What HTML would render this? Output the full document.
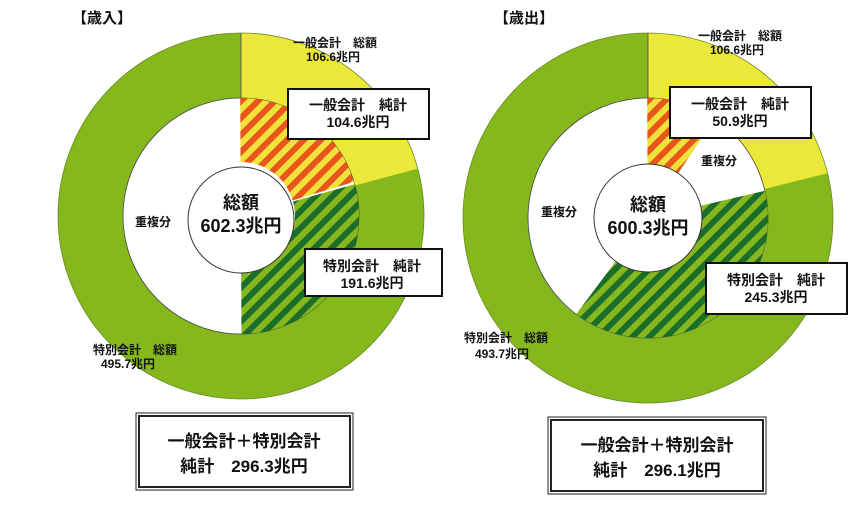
<!DOCTYPE html>
<html><head><meta charset="utf-8"><style>
html,body{margin:0;padding:0;background:#fff;}
svg{display:block;}
text{font-family:"Liberation Sans","Noto Sans CJK JP",sans-serif;font-weight:bold;fill:#111;}
</style></head><body>
<svg width="854" height="509" viewBox="0 0 854 509" xmlns="http://www.w3.org/2000/svg">
<defs>
<pattern id="po" width="12" height="12" patternUnits="userSpaceOnUse" patternTransform="rotate(-45)">
<rect width="12" height="12" fill="#f0e23a"/><rect width="6" height="12" fill="#e8561c"/></pattern>
<pattern id="pg" width="12" height="12" patternUnits="userSpaceOnUse" patternTransform="rotate(-45)">
<rect width="12" height="12" fill="#86b81e"/><rect width="6" height="12" fill="#1b6e2a"/></pattern>
</defs>

<text x="72" y="23" font-size="15">【歳入】</text>
<text x="494" y="23" font-size="15">【歳出】</text>

<!-- LEFT -->
<g>
<circle cx="241" cy="216" r="150.5" fill="none" stroke="#84b81c" stroke-width="65"/>
<circle cx="241" cy="216" r="150.5" fill="none" stroke="#ece83a" stroke-width="65" pathLength="360" stroke-dasharray="75 285" transform="rotate(-90 241 216)"/>
<circle cx="241" cy="216" r="183" fill="none" stroke="#6a8a20" stroke-width="0.8"/>
<circle cx="241" cy="216" r="118" fill="#fff" stroke="#444" stroke-width="0.8"/>
<circle cx="241" cy="216" r="86" fill="none" stroke="url(#po)" stroke-width="64" pathLength="360" stroke-dasharray="74 286" transform="rotate(-90 241 216)"/>
<circle cx="241" cy="216" r="86" fill="none" stroke="url(#pg)" stroke-width="64" pathLength="360" stroke-dasharray="0 74 106 180" transform="rotate(-90 241 216)"/>
<circle cx="241" cy="216" r="86" fill="none" stroke="#fff" stroke-width="64" pathLength="360" stroke-dasharray="0 73.3 1.2 285.5" transform="rotate(-90 241 216)"/>
<line x1="241" y1="33" x2="241" y2="98" stroke="#444" stroke-width="0.8"/>
<circle cx="241" cy="220" r="53" fill="#fff" stroke="#333" stroke-width="1"/>
<text x="241" y="209" font-size="18" text-anchor="middle">総額</text>
<text x="241" y="232" font-size="18" text-anchor="middle">602.3兆円</text>
<text x="153" y="226" font-size="12" text-anchor="middle">重複分</text>
<text x="335" y="47" font-size="12" text-anchor="middle">一般会計　総額</text>
<text x="333" y="61" font-size="12" text-anchor="middle">106.6兆円</text>
<rect x="288" y="89" width="141" height="50" fill="#fff" stroke="#111" stroke-width="2"/>
<text x="358" y="110" font-size="14" text-anchor="middle">一般会計　純計</text>
<text x="358" y="127" font-size="14" text-anchor="middle">104.6兆円</text>
<rect x="305" y="249" width="137" height="47" fill="#fff" stroke="#111" stroke-width="2"/>
<text x="372" y="271" font-size="14" text-anchor="middle">特別会計　純計</text>
<text x="372" y="288" font-size="14" text-anchor="middle">191.6兆円</text>
<text x="135" y="354" font-size="12" text-anchor="middle">特別会計　総額</text>
<text x="128" y="368" font-size="12" text-anchor="middle">495.7兆円</text>
</g>

<!-- RIGHT -->
<g>
<circle cx="648" cy="218" r="152.5" fill="none" stroke="#84b81c" stroke-width="65"/>
<circle cx="648" cy="218" r="152.5" fill="none" stroke="#ece83a" stroke-width="65" pathLength="360" stroke-dasharray="76 284" transform="rotate(-90 648 218)"/>
<circle cx="648" cy="218" r="185" fill="none" stroke="#6a8a20" stroke-width="0.8"/>
<circle cx="648" cy="218" r="120" fill="#fff" stroke="#444" stroke-width="0.8"/>
<circle cx="648" cy="218" r="87" fill="none" stroke="url(#po)" stroke-width="66" pathLength="360" stroke-dasharray="34 326" transform="rotate(-90 648 218)"/>
<circle cx="648" cy="218" r="87" fill="none" stroke="url(#pg)" stroke-width="66" pathLength="360" stroke-dasharray="0 77 140 143" transform="rotate(-90 648 218)"/>
<line x1="648" y1="33" x2="648" y2="98" stroke="#444" stroke-width="0.8"/>
<circle cx="648" cy="218" r="54" fill="#fff" stroke="#333" stroke-width="1"/>
<text x="648" y="211" font-size="18" text-anchor="middle">総額</text>
<text x="648" y="234" font-size="18" text-anchor="middle">600.3兆円</text>
<text x="719" y="165" font-size="12" text-anchor="middle">重複分</text>
<text x="559" y="216" font-size="12" text-anchor="middle">重複分</text>
<text x="740" y="40" font-size="12" text-anchor="middle">一般会計　総額</text>
<text x="737" y="54" font-size="12" text-anchor="middle">106.6兆円</text>
<rect x="670" y="87" width="141" height="51" fill="#fff" stroke="#111" stroke-width="2"/>
<text x="740" y="109" font-size="14" text-anchor="middle">一般会計　純計</text>
<text x="740" y="126" font-size="14" text-anchor="middle">50.9兆円</text>
<rect x="706" y="263" width="141" height="51" fill="#fff" stroke="#111" stroke-width="2"/>
<text x="776" y="285" font-size="14" text-anchor="middle">特別会計　純計</text>
<text x="776" y="302" font-size="14" text-anchor="middle">245.3兆円</text>
<text x="506" y="342" font-size="12" text-anchor="middle">特別会計　総額</text>
<text x="502" y="358" font-size="12" text-anchor="middle">493.7兆円</text>
</g>

<!-- bottom boxes -->
<rect x="136" y="413" width="217" height="77" fill="#fff" stroke="#222" stroke-width="1"/>
<rect x="139" y="416" width="211" height="71" fill="none" stroke="#222" stroke-width="2"/>
<text x="244" y="447" font-size="17" text-anchor="middle">一般会計＋特別会計</text>
<text x="244" y="472" font-size="17" text-anchor="middle">純計　296.3兆円</text>
<rect x="548" y="417" width="218" height="77" fill="#fff" stroke="#222" stroke-width="1"/>
<rect x="551" y="420" width="212" height="71" fill="none" stroke="#222" stroke-width="2"/>
<text x="657" y="451" font-size="17" text-anchor="middle">一般会計＋特別会計</text>
<text x="657" y="476" font-size="17" text-anchor="middle">純計　296.1兆円</text>
</svg>
</body></html>
